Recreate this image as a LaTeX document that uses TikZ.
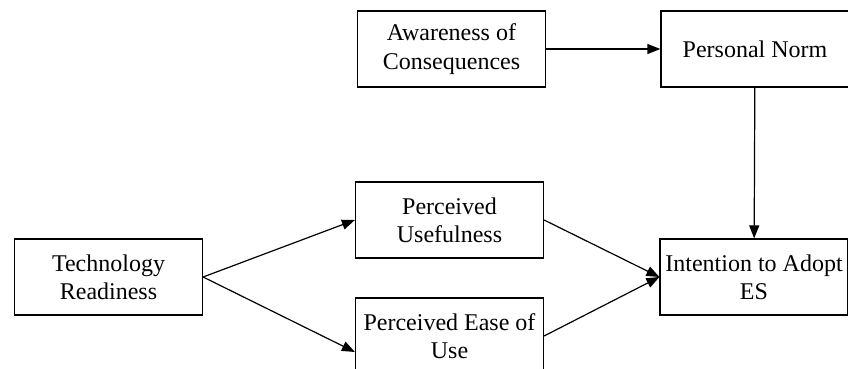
\documentclass[tikz,border=0pt]{standalone}
\usepackage{fontspec}
\setmainfont{Liberation Serif}
\usepackage{tikz}
\usetikzlibrary{arrows.meta}

\begin{document}
\begin{tikzpicture}[x=0.5pt, y=-0.5pt,
  box/.style={draw, line width=0.6pt, minimum width=94pt, minimum height=38pt, align=center,
    inner sep=1pt, font=\fontsize{12}{14.2}\selectfont},
  link/.style={line width=0.6pt, -{Triangle[length=6.5pt, width=5pt]}}]
\useasboundingbox (0, 0) rectangle (848, 369);
\node[box] (aware) at (451.5, 49) {Awareness of\\Consequences};
\node[box] (norm) at (755, 49) {Personal Norm};
\node[box] (tech) at (108.5, 277) {Technology\\Readiness};
\node[box] (useful) at (449.5, 220) {Perceived\\Usefulness};
\node[box] (ease) at (449.5, 336) {Perceived Ease of\\Use};
\node[box] (intent) at (754, 277) {Intention to Adopt\\ES};
\draw[link] (aware) -- (norm);
\draw[link] (norm) -- (intent);
\draw[link] (tech.east) -- (useful.west);
\draw[link] (tech.east) -- ([yshift=-8pt]ease.west);
\draw[link] (useful.east) -- (intent.west);
\draw[link] (ease.east) -- (intent.west);
\end{tikzpicture}
\end{document}
